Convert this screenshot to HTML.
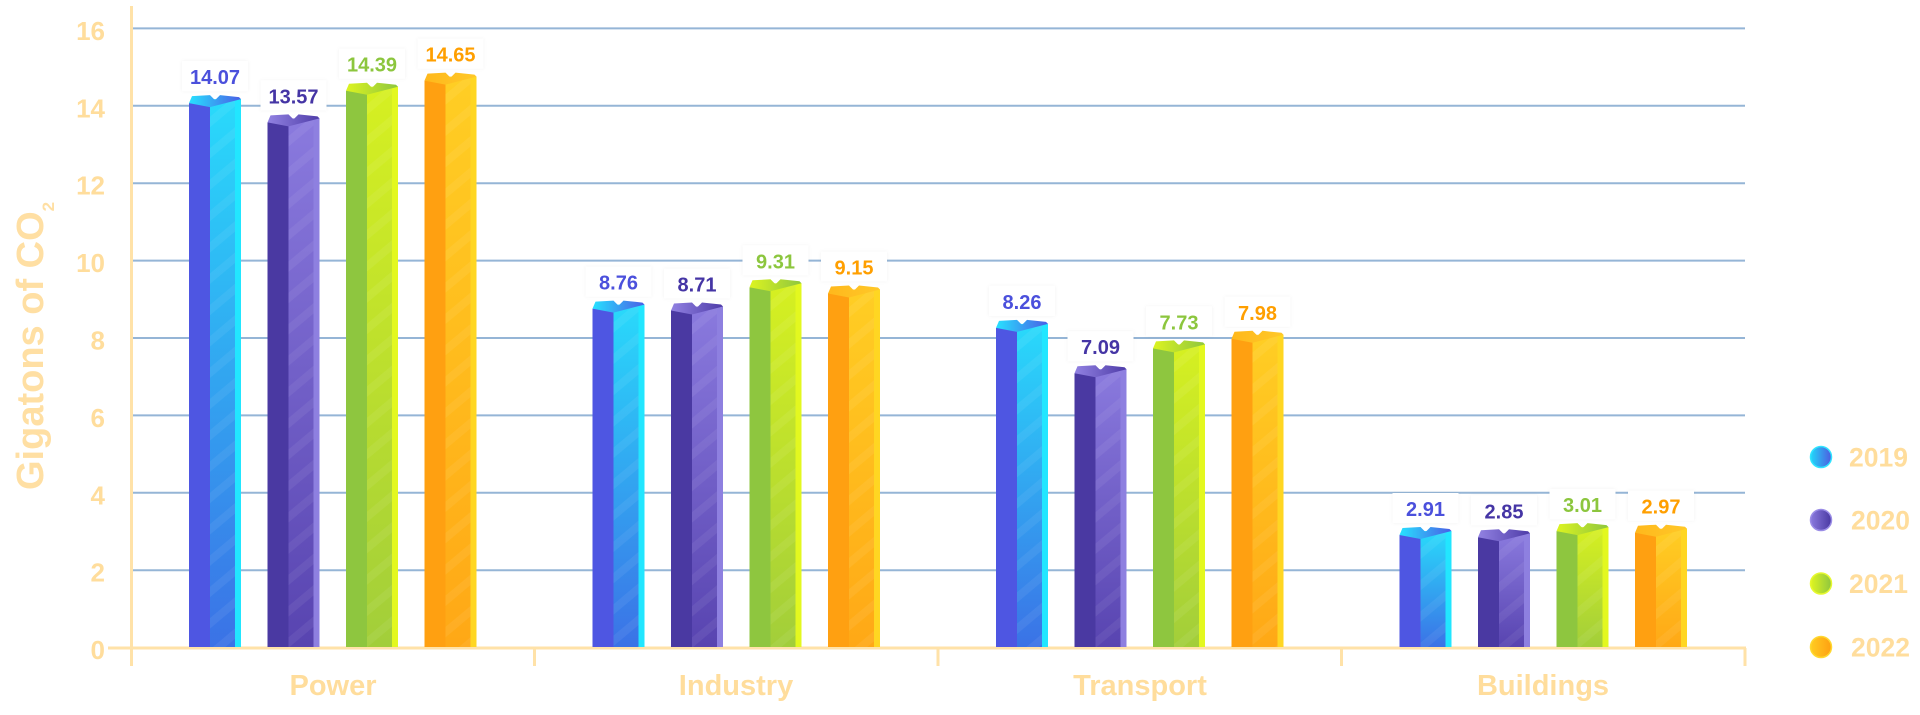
<!DOCTYPE html>
<html><head><meta charset="utf-8"><style>
html,body{margin:0;padding:0;background:#fff;}
svg{display:block;font-family:"Liberation Sans",Arial,sans-serif;font-weight:bold;}
</style></head><body>
<svg width="1920" height="715" viewBox="0 0 1920 715" xmlns="http://www.w3.org/2000/svg">
<defs>
<linearGradient id="f0" x1="0" y1="0" x2="0" y2="1"><stop offset="0" stop-color="#29DAFB"/><stop offset="1" stop-color="#3B72E6"/></linearGradient>
<linearGradient id="f1" x1="0" y1="0" x2="0" y2="1"><stop offset="0" stop-color="#8A7ADE"/><stop offset="1" stop-color="#5844B0"/></linearGradient>
<linearGradient id="f2" x1="0" y1="0" x2="0" y2="1"><stop offset="0" stop-color="#D6F021"/><stop offset="1" stop-color="#A2CE3A"/></linearGradient>
<linearGradient id="f3" x1="0" y1="0" x2="0" y2="1"><stop offset="0" stop-color="#FFCE24"/><stop offset="1" stop-color="#FFA816"/></linearGradient>
<linearGradient id="t0" x1="0" y1="0" x2="1" y2="0"><stop offset="0" stop-color="#27E2FF"/><stop offset="1" stop-color="#4A5EE6"/></linearGradient>
<linearGradient id="t1" x1="0" y1="0" x2="1" y2="0"><stop offset="0" stop-color="#9282E2"/><stop offset="1" stop-color="#4E3CA8"/></linearGradient>
<linearGradient id="t2" x1="0" y1="0" x2="1" y2="0"><stop offset="0" stop-color="#DDF420"/><stop offset="1" stop-color="#8EC63F"/></linearGradient>
<linearGradient id="t3" x1="0" y1="0" x2="1" y2="0"><stop offset="0" stop-color="#FFB81C"/><stop offset="1" stop-color="#FFC828"/></linearGradient>
<linearGradient id="l0" x1="0" y1="0" x2="1" y2="0"><stop offset="0" stop-color="#22D8FA"/><stop offset="1" stop-color="#4E5AE0"/></linearGradient>
<linearGradient id="l1" x1="0" y1="0" x2="1" y2="0"><stop offset="0" stop-color="#8A7ADE"/><stop offset="1" stop-color="#4A39A2"/></linearGradient>
<linearGradient id="l2" x1="0" y1="0" x2="1" y2="0"><stop offset="0" stop-color="#E0F520"/><stop offset="1" stop-color="#8EC63F"/></linearGradient>
<linearGradient id="l3" x1="0" y1="0" x2="1" y2="0"><stop offset="0" stop-color="#FFCC22"/><stop offset="1" stop-color="#FFA011"/></linearGradient>
<pattern id="st" patternUnits="userSpaceOnUse" width="24" height="24" patternTransform="rotate(-40)">
<rect x="0" y="0" width="24" height="8" fill="#fff" opacity="0.06"/></pattern>
<filter id="sh" x="-20%" y="-30%" width="140%" height="160%"><feDropShadow dx="0" dy="0" stdDeviation="1.5" flood-color="#000" flood-opacity="0.05"/></filter>
</defs>

<!-- gridlines -->
<g stroke="#95B5D6" stroke-width="2">
<line x1="133" y1="570.2" x2="1745" y2="570.2"/>
<line x1="133" y1="492.8" x2="1745" y2="492.8"/>
<line x1="133" y1="415.4" x2="1745" y2="415.4"/>
<line x1="133" y1="338" x2="1745" y2="338"/>
<line x1="133" y1="260.6" x2="1745" y2="260.6"/>
<line x1="133" y1="183.2" x2="1745" y2="183.2"/>
<line x1="133" y1="105.8" x2="1745" y2="105.8"/>
<line x1="133" y1="28.4" x2="1745" y2="28.4"/>
</g>

<!-- y tick labels -->
<g fill="#FFDD9C" font-size="26" text-anchor="end">
<text x="105" y="659">0</text>
<text x="105" y="581.7">2</text>
<text x="105" y="504.3">4</text>
<text x="105" y="426.9">6</text>
<text x="105" y="349.5">8</text>
<text x="105" y="272.1">10</text>
<text x="105" y="194.7">12</text>
<text x="105" y="117.3">14</text>
<text x="105" y="39.9">16</text>
</g>

<!-- y title -->
<text transform="translate(43,490) rotate(-90)" fill="#FFDFA3" font-size="38">Gigatons of CO<tspan dy="11" font-size="17">2</tspan></text>

<!-- axes -->
<g stroke="#FFE2A8" stroke-width="3">
<line x1="131.5" y1="6" x2="131.5" y2="666"/>
<line x1="108" y1="648" x2="1746" y2="648"/>
<line x1="534.5" y1="648" x2="534.5" y2="666"/>
<line x1="938" y1="648" x2="938" y2="666"/>
<line x1="1341.5" y1="648" x2="1341.5" y2="666"/>
<line x1="1745" y1="648" x2="1745" y2="666"/>
</g>

<!-- x labels -->
<g fill="#FFDD9C" font-size="29" text-anchor="middle">
<text x="333" y="695">Power</text>
<text x="736" y="695">Industry</text>
<text x="1140" y="695">Transport</text>
<text x="1543" y="695">Buildings</text>
</g>

<!-- bars -->
<g font-size="20" text-anchor="middle">
<!-- Power -->
<g transform="translate(189,103.1)"><rect x="0" y="0" width="21" height="543.9" fill="#4E56E2"/><rect x="21" y="-4" width="31" height="547.9" fill="url(#f0)"/><rect x="21" y="-4" width="25" height="547.9" fill="url(#st)"/><rect x="46" y="-4" width="6" height="547.9" fill="#22E6FF"/><polygon points="0,0 3,-7 21,-8 26,-3 31,-8 50,-6 52,-4 21,4" fill="url(#t0)"/><rect x="-7" y="-42" width="66" height="30" fill="#fff" filter="url(#sh)"/><text x="26" y="-19" fill="#4B50DC">14.07</text></g>
<g transform="translate(267.5,122.4)"><rect x="0" y="0" width="21" height="524.6" fill="#4A39A2"/><rect x="21" y="-4" width="31" height="528.6" fill="url(#f1)"/><rect x="21" y="-4" width="25" height="528.6" fill="url(#st)"/><rect x="46" y="-4" width="6" height="528.6" fill="#8E80E0"/><polygon points="0,0 3,-7 21,-8 26,-3 31,-8 50,-6 52,-4 21,4" fill="url(#t1)"/><rect x="-7" y="-42" width="66" height="30" fill="#fff" filter="url(#sh)"/><text x="26" y="-19" fill="#4535A5">13.57</text></g>
<g transform="translate(346,90.7)"><rect x="0" y="0" width="21" height="556.3" fill="#8EC63F"/><rect x="21" y="-4" width="31" height="560.3" fill="url(#f2)"/><rect x="21" y="-4" width="25" height="560.3" fill="url(#st)"/><rect x="46" y="-4" width="6" height="560.3" fill="#E3F81F"/><polygon points="0,0 3,-7 21,-8 26,-3 31,-8 50,-6 52,-4 21,4" fill="url(#t2)"/><rect x="-7" y="-42" width="66" height="30" fill="#fff" filter="url(#sh)"/><text x="26" y="-19" fill="#8CC63E">14.39</text></g>
<g transform="translate(424.5,80.6)"><rect x="0" y="0" width="21" height="566.4" fill="#FFA011"/><rect x="21" y="-4" width="31" height="570.4" fill="url(#f3)"/><rect x="21" y="-4" width="25" height="570.4" fill="url(#st)"/><rect x="46" y="-4" width="6" height="570.4" fill="#FFD622"/><polygon points="0,0 3,-7 21,-8 26,-3 31,-8 50,-6 52,-4 21,4" fill="url(#t3)"/><rect x="-7" y="-42" width="66" height="30" fill="#fff" filter="url(#sh)"/><text x="26" y="-19" fill="#FF9F00">14.65</text></g>
<!-- Industry -->
<g transform="translate(592.5,308.6)"><rect x="0" y="0" width="21" height="338.4" fill="#4E56E2"/><rect x="21" y="-4" width="31" height="342.4" fill="url(#f0)"/><rect x="21" y="-4" width="25" height="342.4" fill="url(#st)"/><rect x="46" y="-4" width="6" height="342.4" fill="#22E6FF"/><polygon points="0,0 3,-7 21,-8 26,-3 31,-8 50,-6 52,-4 21,4" fill="url(#t0)"/><rect x="-7" y="-42" width="66" height="30" fill="#fff" filter="url(#sh)"/><text x="26" y="-19" fill="#4B50DC">8.76</text></g>
<g transform="translate(671,310.5)"><rect x="0" y="0" width="21" height="336.5" fill="#4A39A2"/><rect x="21" y="-4" width="31" height="340.5" fill="url(#f1)"/><rect x="21" y="-4" width="25" height="340.5" fill="url(#st)"/><rect x="46" y="-4" width="6" height="340.5" fill="#8E80E0"/><polygon points="0,0 3,-7 21,-8 26,-3 31,-8 50,-6 52,-4 21,4" fill="url(#t1)"/><rect x="-7" y="-42" width="66" height="30" fill="#fff" filter="url(#sh)"/><text x="26" y="-19" fill="#4535A5">8.71</text></g>
<g transform="translate(749.5,287.3)"><rect x="0" y="0" width="21" height="359.7" fill="#8EC63F"/><rect x="21" y="-4" width="31" height="363.7" fill="url(#f2)"/><rect x="21" y="-4" width="25" height="363.7" fill="url(#st)"/><rect x="46" y="-4" width="6" height="363.7" fill="#E3F81F"/><polygon points="0,0 3,-7 21,-8 26,-3 31,-8 50,-6 52,-4 21,4" fill="url(#t2)"/><rect x="-7" y="-42" width="66" height="30" fill="#fff" filter="url(#sh)"/><text x="26" y="-19" fill="#8CC63E">9.31</text></g>
<g transform="translate(828,293.5)"><rect x="0" y="0" width="21" height="353.5" fill="#FFA011"/><rect x="21" y="-4" width="31" height="357.5" fill="url(#f3)"/><rect x="21" y="-4" width="25" height="357.5" fill="url(#st)"/><rect x="46" y="-4" width="6" height="357.5" fill="#FFD622"/><polygon points="0,0 3,-7 21,-8 26,-3 31,-8 50,-6 52,-4 21,4" fill="url(#t3)"/><rect x="-7" y="-42" width="66" height="30" fill="#fff" filter="url(#sh)"/><text x="26" y="-19" fill="#FF9F00">9.15</text></g>
<!-- Transport -->
<g transform="translate(996,327.9)"><rect x="0" y="0" width="21" height="319.1" fill="#4E56E2"/><rect x="21" y="-4" width="31" height="323.1" fill="url(#f0)"/><rect x="21" y="-4" width="25" height="323.1" fill="url(#st)"/><rect x="46" y="-4" width="6" height="323.1" fill="#22E6FF"/><polygon points="0,0 3,-7 21,-8 26,-3 31,-8 50,-6 52,-4 21,4" fill="url(#t0)"/><rect x="-7" y="-42" width="66" height="30" fill="#fff" filter="url(#sh)"/><text x="26" y="-19" fill="#4B50DC">8.26</text></g>
<g transform="translate(1074.5,373.2)"><rect x="0" y="0" width="21" height="273.8" fill="#4A39A2"/><rect x="21" y="-4" width="31" height="277.8" fill="url(#f1)"/><rect x="21" y="-4" width="25" height="277.8" fill="url(#st)"/><rect x="46" y="-4" width="6" height="277.8" fill="#8E80E0"/><polygon points="0,0 3,-7 21,-8 26,-3 31,-8 50,-6 52,-4 21,4" fill="url(#t1)"/><rect x="-7" y="-42" width="66" height="30" fill="#fff" filter="url(#sh)"/><text x="26" y="-19" fill="#4535A5">7.09</text></g>
<g transform="translate(1153,348.4)"><rect x="0" y="0" width="21" height="298.6" fill="#8EC63F"/><rect x="21" y="-4" width="31" height="302.6" fill="url(#f2)"/><rect x="21" y="-4" width="25" height="302.6" fill="url(#st)"/><rect x="46" y="-4" width="6" height="302.6" fill="#E3F81F"/><polygon points="0,0 3,-7 21,-8 26,-3 31,-8 50,-6 52,-4 21,4" fill="url(#t2)"/><rect x="-7" y="-42" width="66" height="30" fill="#fff" filter="url(#sh)"/><text x="26" y="-19" fill="#8CC63E">7.73</text></g>
<g transform="translate(1231.5,338.8)"><rect x="0" y="0" width="21" height="308.2" fill="#FFA011"/><rect x="21" y="-4" width="31" height="312.2" fill="url(#f3)"/><rect x="21" y="-4" width="25" height="312.2" fill="url(#st)"/><rect x="46" y="-4" width="6" height="312.2" fill="#FFD622"/><polygon points="0,0 3,-7 21,-8 26,-3 31,-8 50,-6 52,-4 21,4" fill="url(#t3)"/><rect x="-7" y="-42" width="66" height="30" fill="#fff" filter="url(#sh)"/><text x="26" y="-19" fill="#FF9F00">7.98</text></g>
<!-- Buildings -->
<g transform="translate(1399.5,535)"><rect x="0" y="0" width="21" height="112" fill="#4E56E2"/><rect x="21" y="-4" width="31" height="116" fill="url(#f0)"/><rect x="21" y="-4" width="25" height="116" fill="url(#st)"/><rect x="46" y="-4" width="6" height="116" fill="#22E6FF"/><polygon points="0,0 3,-7 21,-8 26,-3 31,-8 50,-6 52,-4 21,4" fill="url(#t0)"/><rect x="-7" y="-42" width="66" height="30" fill="#fff" filter="url(#sh)"/><text x="26" y="-19" fill="#4B50DC">2.91</text></g>
<g transform="translate(1478,537.3)"><rect x="0" y="0" width="21" height="109.7" fill="#4A39A2"/><rect x="21" y="-4" width="31" height="113.7" fill="url(#f1)"/><rect x="21" y="-4" width="25" height="113.7" fill="url(#st)"/><rect x="46" y="-4" width="6" height="113.7" fill="#8E80E0"/><polygon points="0,0 3,-7 21,-8 26,-3 31,-8 50,-6 52,-4 21,4" fill="url(#t1)"/><rect x="-7" y="-42" width="66" height="30" fill="#fff" filter="url(#sh)"/><text x="26" y="-19" fill="#4535A5">2.85</text></g>
<g transform="translate(1556.5,531.1)"><rect x="0" y="0" width="21" height="115.9" fill="#8EC63F"/><rect x="21" y="-4" width="31" height="119.9" fill="url(#f2)"/><rect x="21" y="-4" width="25" height="119.9" fill="url(#st)"/><rect x="46" y="-4" width="6" height="119.9" fill="#E3F81F"/><polygon points="0,0 3,-7 21,-8 26,-3 31,-8 50,-6 52,-4 21,4" fill="url(#t2)"/><rect x="-7" y="-42" width="66" height="30" fill="#fff" filter="url(#sh)"/><text x="26" y="-19" fill="#8CC63E">3.01</text></g>
<g transform="translate(1635,532.7)"><rect x="0" y="0" width="21" height="114.3" fill="#FFA011"/><rect x="21" y="-4" width="31" height="118.3" fill="url(#f3)"/><rect x="21" y="-4" width="25" height="118.3" fill="url(#st)"/><rect x="46" y="-4" width="6" height="118.3" fill="#FFD622"/><polygon points="0,0 3,-7 21,-8 26,-3 31,-8 50,-6 52,-4 21,4" fill="url(#t3)"/><rect x="-7" y="-42" width="66" height="30" fill="#fff" filter="url(#sh)"/><text x="26" y="-19" fill="#FF9F00">2.97</text></g>
</g>

<!-- legend -->
<circle cx="1821" cy="457" r="10.5" fill="url(#l0)" stroke="#30E4FF" stroke-width="1.5"/>
<circle cx="1821" cy="520" r="10.5" fill="url(#l1)" stroke="#9A8CE6" stroke-width="1.5"/>
<circle cx="1821" cy="583.5" r="10.5" fill="url(#l2)" stroke="#E6F830" stroke-width="1.5"/>
<circle cx="1821" cy="647" r="10.5" fill="url(#l3)" stroke="#FFD830" stroke-width="1.5"/>
<g fill="#FFDD9C" font-size="26.5">
<text x="1849" y="466.5">2019</text>
<text x="1851" y="529.5">2020</text>
<text x="1849" y="593">2021</text>
<text x="1851" y="656.5">2022</text>
</g>
</svg>
</body></html>
